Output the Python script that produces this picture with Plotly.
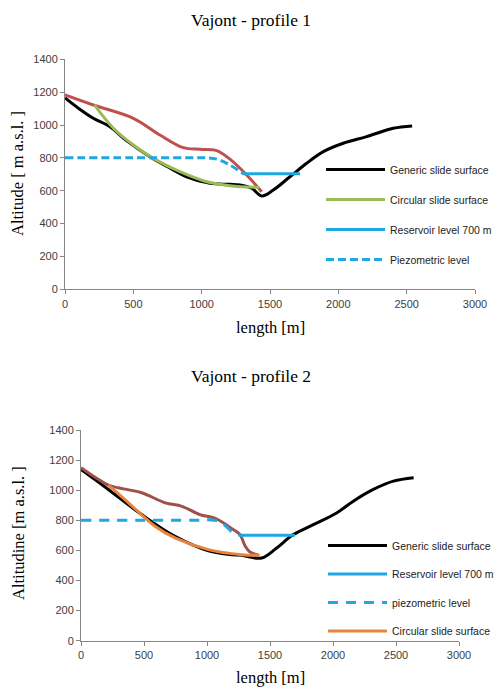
import plotly.graph_objects as go

# ---------------- Profile 1 data ----------------
gen1_x = [0, 100, 207, 329, 450, 622, 750, 890, 1061, 1207, 1280, 1366, 1439, 1524, 1646, 1768, 1890, 2036, 2207, 2402, 2540]
gen1_y = [1165, 1101, 1041, 990, 905, 807, 746, 685, 645, 639, 635, 615, 568, 604, 685, 767, 838, 889, 929, 980, 994]
red1_x = [0, 207, 500, 695, 866, 988, 1110, 1207, 1329, 1439]
red1_y = [1183, 1122, 1041, 939, 862, 852, 844, 792, 696, 594]
circ1_x = [215, 354, 500, 646, 841, 1037, 1207, 1420]
circ1_y = [1122, 980, 878, 797, 716, 655, 631, 620]
piezo1_x = [0, 500, 900, 1050, 1120, 1207, 1305]
piezo1_y = [800, 800, 800, 800, 790, 756, 703]
res1_x = [1300, 1720]
res1_y = [703, 703]

# ---------------- Profile 2 data ----------------
gen2_x = [0, 217, 481, 746, 1011, 1209, 1275, 1434, 1553, 1685, 1844, 2029, 2161, 2320, 2479, 2640]
gen2_y = [1138, 1005, 838, 693, 598, 571, 567, 549, 616, 705, 771, 849, 927, 1005, 1060, 1083]
red2_x = [0, 217, 296, 481, 669, 801, 944, 1066, 1209, 1262, 1302, 1341, 1415]
red2_y = [1149, 1034, 1016, 983, 916, 893, 838, 812, 738, 705, 630, 589, 567]
circ2_x = [217, 349, 587, 746, 1011, 1275, 1415]
circ2_y = [1034, 938, 760, 683, 605, 571, 567]
piezo2_x = [0, 500, 900, 1063, 1130, 1209, 1262]
piezo2_y = [800, 800, 800, 800, 775, 716, 700]
res2_x = [1262, 1698]
res2_y = [700, 700]

x_ticks = [0, 500, 1000, 1500, 2000, 2500, 3000]
y_ticks = [0, 200, 400, 600, 800, 1000, 1200, 1400]

W, H = 496, 687
BLUE = "#1ea7e1"
SERIF = "Liberation Serif, Times New Roman, serif"
SANS = "Liberation Sans, Arial, sans-serif"

def py(px):
    return 1 - px / H

def pxx(px):
    return px / W

fig = go.Figure()

# profile 1
fig.add_trace(go.Scatter(x=gen1_x, y=gen1_y, mode="lines", name="Generic slide surface",
                         line=dict(color="black", width=3, shape="spline"),
                         xaxis="x", yaxis="y", legend="legend", legendgroup="a1"))
fig.add_trace(go.Scatter(x=red1_x, y=red1_y, mode="lines", name="topography",
                         line=dict(color="#c0504d", width=3, shape="spline"), showlegend=False,
                         xaxis="x", yaxis="y"))
fig.add_trace(go.Scatter(x=circ1_x, y=circ1_y, mode="lines", name="Circular slide surface",
                         line=dict(color="#9bbb59", width=3, shape="spline"),
                         xaxis="x", yaxis="y", legend="legend", legendgroup="b1"))
fig.add_trace(go.Scatter(x=res1_x, y=res1_y, mode="lines", name="Reservoir level 700 m",
                         line=dict(color=BLUE, width=3),
                         xaxis="x", yaxis="y", legend="legend", legendgroup="c1"))
fig.add_trace(go.Scatter(x=piezo1_x, y=piezo1_y, mode="lines", name="Piezometric level",
                         line=dict(color=BLUE, width=3, dash="8px,4px", shape="spline"),
                         xaxis="x", yaxis="y", legend="legend", legendgroup="d1"))

# profile 2
fig.add_trace(go.Scatter(x=gen2_x, y=gen2_y, mode="lines", name="Generic slide surface",
                         line=dict(color="black", width=3, shape="spline"),
                         xaxis="x2", yaxis="y2", legend="legend2", legendgroup="a2"))
fig.add_trace(go.Scatter(x=red2_x, y=red2_y, mode="lines", name="topography",
                         line=dict(color="#a0504b", width=3, shape="spline"), showlegend=False,
                         xaxis="x2", yaxis="y2"))
fig.add_trace(go.Scatter(x=res2_x, y=res2_y, mode="lines", name="Reservoir level 700 m",
                         line=dict(color=BLUE, width=3),
                         xaxis="x2", yaxis="y2", legend="legend2", legendgroup="b2"))
fig.add_trace(go.Scatter(x=piezo2_x, y=piezo2_y, mode="lines", name="piezometric level",
                         line=dict(color=BLUE, width=3, dash="10px,8px", shape="spline"),
                         xaxis="x2", yaxis="y2", legend="legend2", legendgroup="c2"))
fig.add_trace(go.Scatter(x=circ2_x, y=circ2_y, mode="lines", name="Circular slide surface",
                         line=dict(color="#e8853d", width=3, shape="spline"),
                         xaxis="x2", yaxis="y2", legend="legend2", legendgroup="d2"))

axis_common = dict(showgrid=False, zeroline=False, showline=True, linecolor="#868686", linewidth=1,
                   ticks="outside", ticklen=4, tickcolor="#868686",
                   tickfont=dict(family=SANS, size=11, color="#404040"))

fig.update_layout(
    width=W, height=H,
    margin=dict(l=0, r=0, t=0, b=0, autoexpand=False),
    paper_bgcolor="white", plot_bgcolor="white",
    xaxis=dict(domain=[pxx(65), pxx(475)], range=[0, 3000], tickvals=x_ticks, anchor="y", **axis_common),
    yaxis=dict(domain=[py(289.3), py(59.3)], range=[0, 1400], tickvals=y_ticks, anchor="x", **axis_common),
    xaxis2=dict(domain=[pxx(81), pxx(459)], range=[0, 3000], tickvals=x_ticks, anchor="y2", **axis_common),
    yaxis2=dict(domain=[py(640.7), py(430)], range=[0, 1400], tickvals=y_ticks, anchor="x2", **axis_common),
    legend=dict(x=pxx(321), y=py(155), xanchor="left", yanchor="top", bgcolor="rgba(0,0,0,0)",
                font=dict(family=SANS, size=10.5, color="#222"), itemwidth=59, tracegroupgap=11,
                traceorder="grouped"),
    legend2=dict(x=pxx(323), y=py(531), xanchor="left", yanchor="top", bgcolor="rgba(0,0,0,0)",
                 font=dict(family=SANS, size=10.5, color="#222"), itemwidth=59, tracegroupgap=9.5,
                 traceorder="grouped"),
    showlegend=True,
)

annos = [
    dict(text="Vajont - profile 1", x=pxx(251), y=py(20), size=17.5),
    dict(text="Vajont - profile 2", x=pxx(251), y=py(376), size=17.5),
    dict(text="length [m]", x=pxx(270), y=py(328), size=16.5),
    dict(text="length [m]", x=pxx(270), y=py(677), size=16.5),
]
for a in annos:
    fig.add_annotation(text=a["text"], x=a["x"], y=a["y"], xref="paper", yref="paper",
                       xanchor="center", yanchor="middle", showarrow=False,
                       font=dict(family=SERIF, size=a["size"], color="black"))
for text, yc in [("Altitude [ m a.s.l. ]", 174), ("Altitudine [m a.s.l. ]", 533)]:
    fig.add_annotation(text=text, x=pxx(18), y=py(yc), xref="paper", yref="paper",
                       xanchor="center", yanchor="middle", showarrow=False, textangle=-90,
                       font=dict(family=SERIF, size=16.5, color="black"))

fig.write_html("out.html")
